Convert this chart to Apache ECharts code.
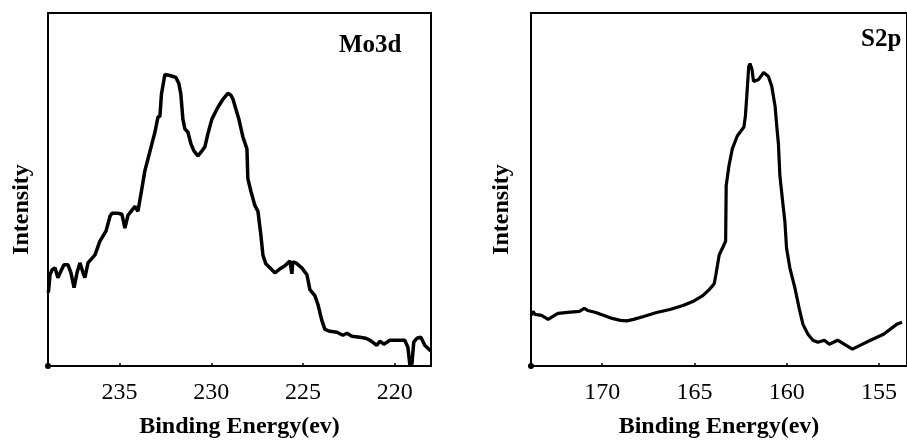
<!DOCTYPE html>
<html>
<head>
<meta charset="utf-8">
<script src="https://cdn.jsdelivr.net/npm/echarts@6/dist/echarts.min.js"></script>
<style>
html,body{margin:0;padding:0;background:#fff;}
#chart{width:907px;height:444px;}
</style>
</head>
<body>
<div id="chart"></div>
<script>
// Mo3d panel
const moEnergy = [238.88,238.79,238.68,238.52,238.36,238.19,238.03,237.81,237.65,237.48,237.32,237.16,236.99,236.89,236.72,236.34,236.07,235.74,235.52,235.41,235.09,234.87,234.71,234.54,234.33,234.16,234.00,233.83,233.62,233.45,233.24,233.07,232.91,232.80,232.72,232.64,232.53,232.47,232.26,231.93,231.77,231.66,231.55,231.44,231.28,231.11,230.95,230.73,230.51,230.35,230.19,229.97,229.64,229.37,229.10,228.93,228.82,228.66,228.50,228.28,228.06,228.01,227.84,227.63,227.46,227.30,227.19,227.03,226.81,226.54,226.26,225.99,225.72,225.67,225.61,225.56,225.39,225.07,224.79,224.63,224.36,224.19,223.98,223.81,223.54,223.16,222.83,222.61,222.34,221.91,221.58,221.36,221.14,220.98,220.82,220.60,220.27,219.84,219.46,219.29,219.18,219.07,218.97,218.80,218.58,218.37,218.20,218.04];
const moIntensity = [74,92,97,99,89,96,102,102,94,79,94,104,94,89,104,112,126,136,151,154,154,153,139,152,157,161,156,174,197,209,224,236,251,252,274,276,294,296,293,291,285,274,249,239,236,224,217,212,217,221,234,249,261,269,275,273,269,259,249,231,219,189,176,162,156,132,112,103,99,94,98,101,106,106,93,105,104,99,92,77,71,62,46,37,35,34,31,33,30,29,28,26,23,21,25,22,26,26,26,19,1,2,24,28,29,21,18,15];
const moTicks = [235,230,225,220];

// S2p panel
const sEnergy = [173.86,173.75,173.64,173.29,172.93,172.67,172.40,171.86,171.24,170.97,170.79,170.35,169.90,169.46,169.01,168.66,168.30,167.76,167.05,166.33,165.62,165.09,164.55,164.20,163.93,163.84,163.66,163.48,163.31,163.28,163.13,162.95,162.68,162.32,162.24,162.15,162.06,161.99,161.88,161.80,161.72,161.52,161.25,160.99,160.81,160.63,160.54,160.45,160.37,160.18,160.10,160.01,159.83,159.56,159.30,159.12,158.85,158.58,158.31,157.96,157.69,157.24,156.89,156.44,156.00,155.46,154.75,154.04,153.75];
const sIntensity = [51,55,52,51,47,50,53,54,55,58,56,54,51,48,46,45.5,47,50,54,57,61,65,71,77,83,92,112,119,126,182,202,219,232,241,252,276,302,305,299,287,286,289,296,292,282,262,242,224,192,159,146,119,99,79,56,42,32,26,24,26,22,26,22,17,21,26,32,42,44];
const sTicks = [170,165,160,155];

const panelTitles = ['Mo3d','S2p'];
const xName = 'Binding Energy(ev)';
const yName = 'Intensity';

const FONT = '"Liberation Serif", "Times New Roman", serif';

function pairs(xs, ys){ return xs.map((x,i)=>[x, ys[i]]); }

function xAxisCfg(gridIndex, min, max, ticks){
  return {
    type:'value', gridIndex, inverse:true, min, max,
    name: xName, nameLocation:'middle', nameGap:49,
    nameTextStyle:{fontFamily:FONT, fontWeight:'bold', fontSize:24, color:'#000'},
    axisLine:{show:true, lineStyle:{color:'#000', width:2}},
    axisTick:{show:true, inside:true, length:3, customValues:ticks, lineStyle:{color:'#000', width:1.5}},
    axisLabel:{customValues:ticks, margin:15, fontFamily:FONT, fontSize:24, color:'#000'},
    splitLine:{show:false}
  };
}
function yAxisCfg(gridIndex, gap){
  return {
    type:'value', gridIndex, min:0, max:356,
    name: yName, nameLocation:'middle', nameGap:gap,
    nameTextStyle:{fontFamily:FONT, fontWeight:'bold', fontSize:24, color:'#000', padding:[0,40,0,0]},
    axisLine:{show:true, symbol:['circle','none'], symbolSize:[6,6], lineStyle:{color:'#000', width:2}},
    axisTick:{show:false}, axisLabel:{show:false}, splitLine:{show:false}
  };
}

const chart = echarts.init(document.getElementById('chart'), null, {renderer:'canvas'});
chart.setOption({
  animation:false,
  backgroundColor:'#fff',
  title:[
    {text:panelTitles[0], left:339, top:33, padding:0, textStyle:{fontFamily:FONT, fontWeight:'bold', fontSize:25, color:'#000'}},
    {text:panelTitles[1], left:861, top:27, padding:0, textStyle:{fontFamily:FONT, fontWeight:'bold', fontSize:25, color:'#000'}}
  ],
  grid:[
    {left:48, top:13, width:383, height:356, show:true, borderColor:'#000', borderWidth:2, backgroundColor:'transparent'},
    {left:531, top:13, width:381, height:356, show:true, borderColor:'#000', borderWidth:2, backgroundColor:'transparent'}
  ],
  xAxis:[ xAxisCfg(0, 218.03, 238.9, moTicks), xAxisCfg(1, 153.48, 173.86, sTicks) ],
  yAxis:[ yAxisCfg(0, 14), yAxisCfg(1, 17) ],
  series:[
    {type:'line', xAxisIndex:0, yAxisIndex:0, data:pairs(moEnergy, moIntensity), showSymbol:false, symbol:'none',
     lineStyle:{color:'#000', width:3.5}},
    {type:'line', xAxisIndex:1, yAxisIndex:1, data:pairs(sEnergy, sIntensity), showSymbol:false, symbol:'none',
     lineStyle:{color:'#000', width:3.2}}
  ]
});
</script>
</body>
</html>
